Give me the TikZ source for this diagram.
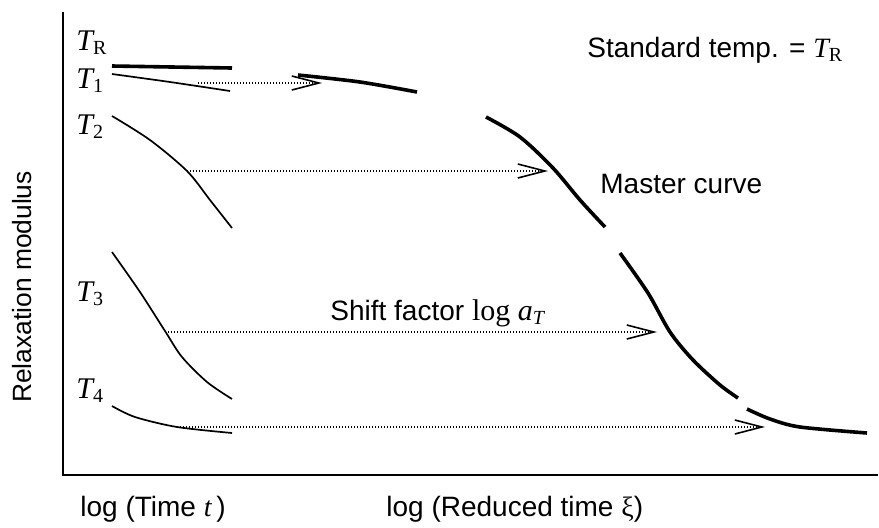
\documentclass[tikz,border=0pt]{standalone}
\usepackage{fontspec}
\setsansfont{Liberation Sans}
\newfontfamily\timesfont{Liberation Serif}
\usetikzlibrary{arrows.meta}

% italic letter with a lowered subscript, Times-like
\newcommand{\itsub}[2]{{\timesfont\itshape #1}\raisebox{-0.3ex}{\timesfont\fontsize{10}{11}\selectfont #2}}

\begin{document}
\begin{tikzpicture}[
    x=0.5pt, y=-0.5pt,
    every node/.style={font=\sffamily\fontsize{14}{16}\selectfont, inner sep=0pt},
    templabel/.style={font=\timesfont\fontsize{15}{17}\selectfont, anchor=base west},
    axisline/.style={line width=1.3pt},
    isotherm/.style={line width=0.85pt},
    master/.style={line width=1.8pt},
    shiftarrow/.style={line width=0.8pt, dash pattern=on 0.7pt off 0.8pt,
        -{Straight Barb[length=13.5pt, width=7pt, line width=0.8pt]}},
]
\useasboundingbox (0,0) rectangle (879,527);

% Axes
\coordinate (ytop) at (63,12);
\coordinate (origin) at (63,475);
\coordinate (xend) at (878,475);
\draw[axisline] (ytop) -- (origin) -- (xend);

\node[rotate=90, font=\sffamily\fontsize{13.2}{15}\selectfont] (ylab) at (22,287) {Relaxation modulus};
\node[anchor=base west] (xlab) at (80,516) {log (Time {\timesfont\itshape t}\,)};
\node[anchor=base west] (xilab) at (386,516) {log (Reduced time {\timesfont ξ})};

% Temperature labels
\node[templabel] (trlabel) at (76,50) {\itsub{T}{R}};
\node[templabel] (tonelabel) at (76,88) {\itsub{T}{1}};
\node[templabel] (ttwolabel) at (76,134) {\itsub{T}{2}};
\node[templabel] (tthreelabel) at (76,301) {\itsub{T}{3}};
\node[templabel] (tfourlabel) at (76,398) {\itsub{T}{4}};

% Short-time curves
\draw[master] (112,66) -- (232,68);
\draw[isotherm] plot[smooth] coordinates {(112,74) (170,82) (230,91)};
\draw[isotherm] plot[smooth] coordinates {(112,116) (150,140) (187,171) (210,200) (232,228)};
\draw[isotherm] plot[smooth] coordinates {(112,252) (140,292) (165,331) (182,357) (207,382) (232,399)};
\draw[isotherm] plot[smooth] coordinates {(112,406) (135,417) (177,427) (232,433)};

% Master curve, broken into pieces
\draw[master] plot[smooth] coordinates {(298,75) (360,82) (417,92)};
\draw[master] plot[smooth] coordinates {(486,117) (520,137) (553,168) (580,200) (605,227)};
\draw[master] plot[smooth] coordinates {(620,253) (648,293) (670,332) (693,360) (720,385) (738,398)};
\draw[master] plot[smooth] coordinates {(747,409) (770,419) (800,427) (867,433)};

\node[anchor=base west] (stdtemp) at (587,57) {Standard temp. = \itsub{T}{R}};
\node[anchor=base west] (mastercurve) at (600,193) {Master curve};
\node[anchor=base west] (shiftlabel) at (330,320) {Shift factor {\timesfont\fontsize{15}{17}\selectfont log \itsub{a}{\itshape T}}};

% Shift arrows
\coordinate (onestart) at (198,83);
\coordinate (oneend) at (322,83);
\coordinate (twostart) at (187,171);
\coordinate (twoend) at (548,171);
\coordinate (threestart) at (165,332);
\coordinate (threeend) at (657,332);
\coordinate (fourstart) at (177,427);
\coordinate (fourend) at (765,427);

\draw[shiftarrow] (onestart) -- (oneend);
\draw[shiftarrow] (twostart) -- (twoend);
\draw[shiftarrow] (threestart) -- (threeend);
\draw[shiftarrow] (fourstart) -- (fourend);

\end{tikzpicture}
\end{document}
